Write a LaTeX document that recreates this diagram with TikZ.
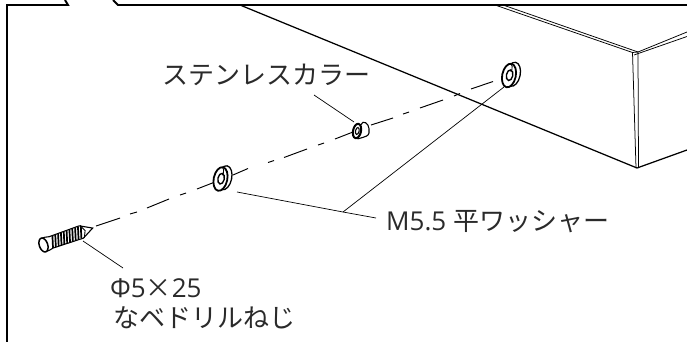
\documentclass[tikz,border=0pt]{standalone}
\usepackage{fontspec}
\setmainfont{Open Sans}[Scale=1]
\newfontfamily\jp{Noto Sans CJK JP}
\definecolor{ink}{HTML}{2A2A2A}
\tikzset{
  framel/.style={line width=1.9pt,black,line join=miter},
  boxl/.style={line width=1.25pt,black},
  edgel/.style={line width=0.75pt,black},
  leader/.style={line width=0.7pt,black},
  dashl/.style={line width=0.95pt,black},
  label/.style={inner sep=0pt,anchor=base west,text=ink,font=\fontsize{26}{26}\selectfont},
  washerpart/.pic={
    \draw[line width=1.3pt,fill=white] (4.2,-1.2) ellipse[x radius=7,y radius=12.2,rotate=-12];
    \draw[line width=1.8pt,fill=white] (0,0) ellipse[x radius=6.8,y radius=12,rotate=-12];
    \draw[line width=1.4pt,fill=white] (0.6,-0.3) ellipse[x radius=3.2,y radius=5.4,rotate=-12];
    \draw[line width=0.8pt] (1.8,-3.8) arc[start angle=70,end angle=-100,x radius=2.2,y radius=4.2];
  }
}
\begin{document}
\begin{tikzpicture}[x=1pt,y=-1pt]
\useasboundingbox (0,0) rectangle (687,342);
% frame
\draw[framel] (7,342) -- (7,5) -- (68,5) -- (65,0);
\draw[framel] (113,0) -- (118,5) -- (687,5);
% box
\draw[boxl] (240,5) -- (637,168) -- (687,150);
\draw[edgel] (495,5) -- (632.5,52.5) -- (636,168);
\draw[edgel] (503,5) -- (638,52);
\draw[edgel] (632.5,52.5) -- (638,52) -- (638.5,168);
\draw[edgel] (638,52) -- (687,32);
\draw[edgel] (634,55) -- (687,36.5);
% axis
\foreach \a/\b/\c/\d in {96/226/120/218,130/214/137/212,147/208/169/199,180/195/186/193,197/189/215/182,233/175/248/168.5,268/162.5/274/160.5,284/157.5/307/149,318/145/324/143,335/139/353/132,371/125/393/118,403/114/409/112,420/108/443/100,454/96/460/93.5,471/89/493/81.5}
  \draw[dashl] (\a,\b) -- (\c,\d);
% labels
\node[label] (collarlab) at (162,85) {\jp ステンレスカラー};
\node[label] (washerlab) at (386,230) {M5.5 {\jp 平ワッシャー}};
\node[label] (screwlab) at (110,297) {Φ5{\jp ×}25};
\node[label] (screwlabb) at (113,327) {\jp なベドリルねじ};
% leaders
\coordinate (cstart) at (314,95);
\coordinate (cend) at (354,122);
\coordinate (wjoin) at (343,212);
\coordinate (wa) at (237,192);
\coordinate (wb) at (504,87);
\coordinate (wend) at (376,218);
\coordinate (sa) at (83,241);
\coordinate (sb) at (123,268);
\draw[leader] (cstart) -- (cend);
\draw[leader] (wa) -- (wjoin) -- (wend);
\draw[leader] (wjoin) -- (wb);
\draw[leader] (sa) -- (sb);
% washers
\pic at (220.5,179) {washerpart};
\pic at (509,75.5) {washerpart};
% collar
\draw[line width=1.1pt,fill=white] (356,130.5) -- (363,122.3) .. controls (367,121.5) and (370,127) .. (369,133) .. controls (368.5,136) and (366,136.5) .. (358,138.8) -- cycle;
\draw[line width=2pt,fill=white] (357,131) ellipse[x radius=4,y radius=7.3,rotate=-12];
\draw[line width=1.1pt,fill=white] (357.3,131) ellipse[x radius=1.8,y radius=3.5,rotate=-12];
% screw
\begin{scope}[shift={(43.5,245)},rotate=19]
  \fill[white] (0,-7) -- (8,-6) -- (40,-6.5) -- (52,0) -- (40,6.5) -- (8,6) -- (0,7) -- cycle;
  \draw[line width=1.1pt] (0,-7) .. controls (3,-7.5) and (5,-6.5) .. (8,-6) -- (40,-6.5) -- (52,0) -- (40,6.5) -- (8,6) .. controls (5,6.5) and (3,7.5) .. (0,7);
  \draw[line width=1.5pt,fill=white] (0,0) ellipse[x radius=4.2,y radius=7.2];
  \foreach \t in {8,11,...,38}
    \draw[line width=1.7pt] (\t,6) -- (\t+3.5,-6);
  \draw[line width=0.9pt] (41,-6.5) -- (44,0) -- (41,6.5);
\end{scope}
\end{tikzpicture}
\end{document}
